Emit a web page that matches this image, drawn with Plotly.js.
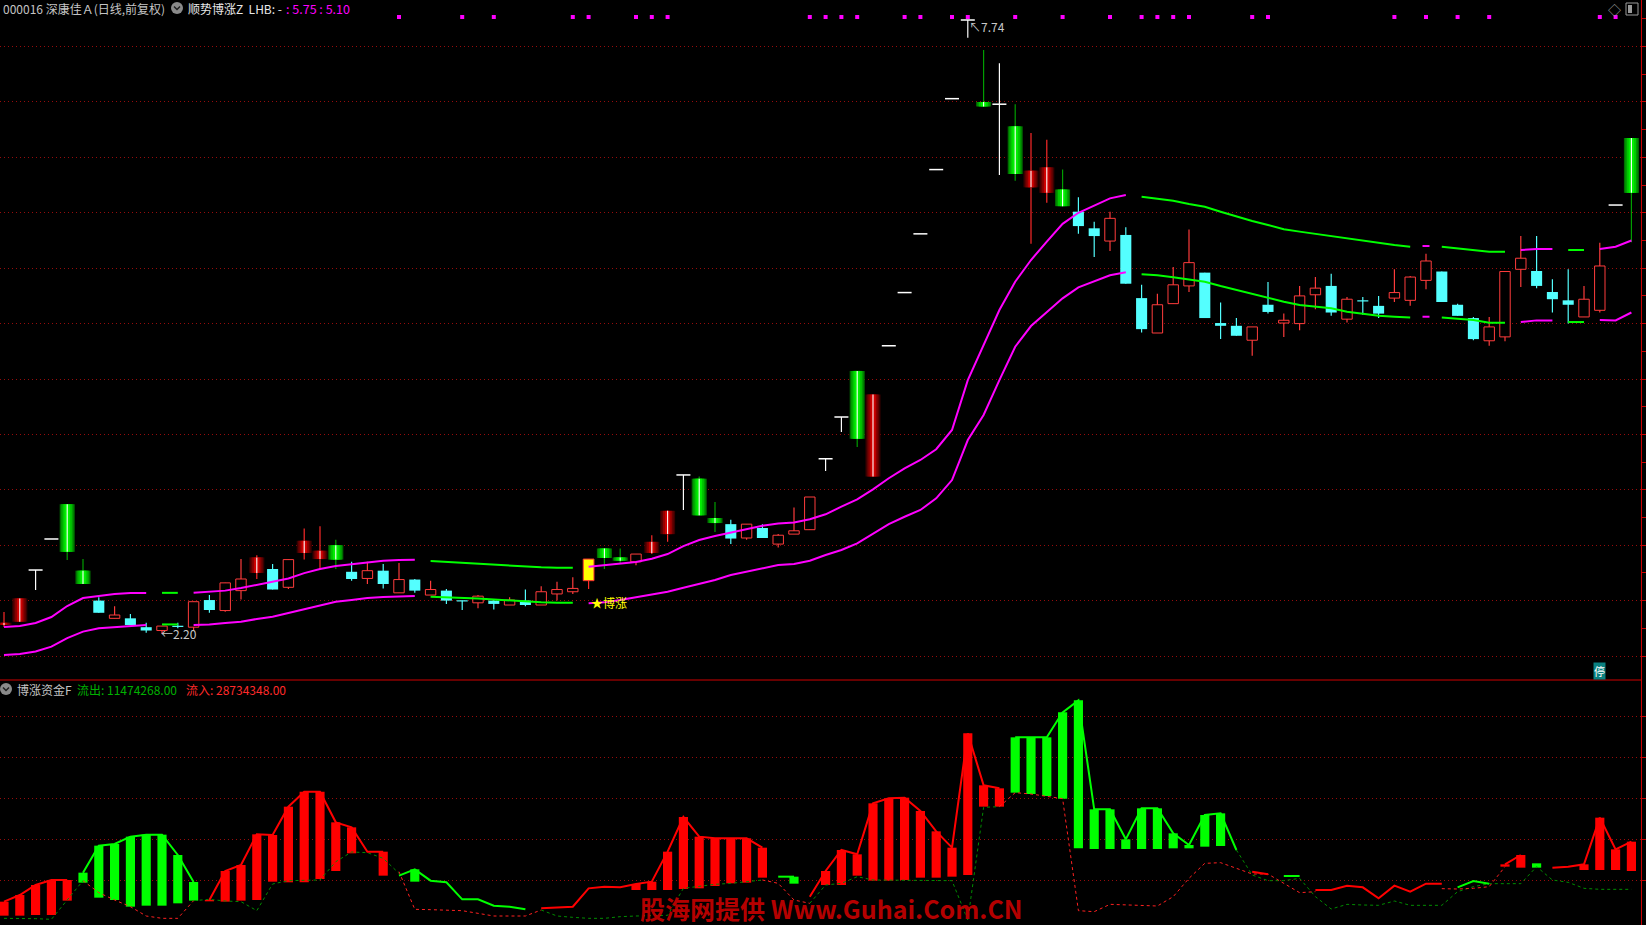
<!DOCTYPE html>
<html>
<head>
<meta charset="utf-8">
<script src="https://cdn.plot.ly/plotly-3.0.1.min.js"></script>
<style>
html,body{margin:0;padding:0;background:#000;overflow:hidden}
#chart{width:1646px;height:925px}
</style>
</head>
<body>
<div id="chart"></div>
<script>
// ---------------- DATA ----------------
// daily candles, index 0..103
const openP = [2.28,2.31,2.776,3.056,3.37,2.77,2.50,2.34,2.34,2.26,
 2.23,2.27,2.26,2.505,2.41,2.59,2.75,2.785,2.62,2.93,
 2.875,3.00,2.76,2.70,2.77,2.57,2.69,2.55,2.59,2.50,
 2.48,2.50,2.46,2.50,2.46,2.56,2.58,2.68,2.97,2.89,
 2.85,2.93,3.10,3.634,3.60,3.245,3.19,3.065,3.155,3.01,
 3.10,3.14,3.78,4.157,4.573,3.62,4.80,5.28,5.81,6.39,
 7.03,7.74,7.00,6.98,6.78,6.23,6.18,6.21,6.01,5.86,
 5.745,5.80,5.23,4.915,5.18,5.34,5.46,5.005,4.98,4.85,
 5.17,5.005,5.00,5.26,5.34,5.04,5.21,5.16,5.23,5.21,
 5.39,5.47,5.17,5.05,4.845,4.88,5.49,5.475,5.285,5.21,
 5.06,5.12,6.07,6.675];
const highP = [2.397,2.523,2.776,3.056,3.37,2.875,2.53,2.45,2.38,2.30,
 2.27,2.30,2.49,2.55,2.66,2.875,2.91,2.83,2.87,3.15,
 3.17,3.05,2.85,2.85,2.83,2.84,2.695,2.68,2.605,2.50,
 2.55,2.51,2.53,2.60,2.63,2.67,2.71,2.875,2.97,2.97,
 2.92,3.09,3.31,3.634,3.62,3.39,3.23,3.19,3.19,3.10,
 3.34,3.435,3.78,4.157,4.573,4.36,4.80,5.28,5.81,6.39,
 7.03,7.74,7.47,7.35,6.98,6.72,6.66,6.39,6.14,5.92,
 6.01,5.87,5.35,5.27,5.51,5.85,5.46,5.19,5.05,4.97,
 5.375,5.09,5.34,5.42,5.45,5.24,5.24,5.25,5.49,5.43,
 5.63,5.47,5.18,5.06,5.06,5.47,5.79,5.79,5.40,5.49,
 5.34,5.73,6.07,6.675];
const lowP = [2.262,2.307,2.596,3.056,2.866,2.65,2.39,2.34,2.28,2.21,
 2.20,2.25,2.235,2.39,2.40,2.51,2.695,2.60,2.605,2.87,
 2.785,2.785,2.68,2.65,2.61,2.57,2.57,2.55,2.47,2.415,
 2.43,2.42,2.46,2.45,2.46,2.50,2.56,2.605,2.785,2.84,
 2.82,2.92,3.03,3.318,3.27,3.12,3.01,3.05,3.065,2.98,
 3.10,3.137,3.67,4.022,3.886,3.62,4.80,5.28,5.81,6.39,
 7.03,7.58,6.96,6.34,6.29,5.72,6.09,6.06,5.81,5.60,
 5.655,5.36,4.92,4.915,5.18,5.285,5.05,4.86,4.89,4.71,
 5.09,4.88,4.94,5.13,5.07,5.01,5.08,5.05,5.195,5.16,
 5.31,5.195,5.07,4.85,4.80,4.84,5.33,5.32,5.10,5.00,
 5.06,5.10,6.07,5.735];
const closeP = [2.30,2.52,2.776,3.056,2.94,2.65,2.39,2.37,2.28,2.23,
 2.27,2.265,2.49,2.415,2.66,2.695,2.89,2.60,2.87,3.04,
 2.95,2.87,2.695,2.77,2.65,2.69,2.59,2.60,2.50,2.495,
 2.54,2.47,2.505,2.46,2.58,2.60,2.61,2.875,2.885,2.86,
 2.92,3.03,3.31,3.634,3.27,3.20,3.06,3.19,3.065,3.09,
 3.13,3.435,3.78,4.157,3.96,4.36,4.80,5.28,5.81,6.39,
 7.03,7.74,6.96,6.98,6.35,6.38,6.41,6.06,5.88,5.79,
 5.95,5.36,4.95,5.17,5.35,5.55,5.05,4.98,4.89,4.97,
 5.105,5.03,5.25,5.32,5.10,5.22,5.20,5.09,5.28,5.42,
 5.565,5.195,5.07,4.86,4.97,5.47,5.59,5.34,5.22,5.17,
 5.22,5.52,6.07,6.18];
// candle signal class: R up, C down, G green signal, D red signal, Y start day, W limit board
const candleKind = "DDWWGGCRCC" + "RCRCRRDCRD" + "DGCRCRCRCC" + "RCRCRRRYGG" + "RDDWGGCRCR" +
                   "RRWWGDWWWW" + "WWGWGDDGCC" + "RCCRRRCCCR" + "CRRRCRCCRR" + "RCCCRRRCCC" + "RRWG";

// trend bands
const bandUpper = [2.262,2.27,2.298,2.352,2.451,2.523,2.541,2.559,2.568,2.568,
 2.57,2.57,2.57,2.58,2.59,2.613,2.643,2.67,2.70,2.748,
 2.785,2.812,2.83,2.848,2.86,2.866,2.869,2.857,2.848,2.84,
 2.833,2.824,2.815,2.806,2.80,2.797,2.797,2.806,2.818,2.83,
 2.848,2.878,2.92,2.992,3.047,3.083,3.113,3.145,3.175,3.195,
 3.205,3.235,3.279,3.348,3.414,3.504,3.604,3.694,3.769,3.866,
 4.04,4.49,4.81,5.123,5.378,5.574,5.74,5.90,6.00,6.067,
 6.13,6.16,6.145,6.13,6.109,6.079,6.055,6.01,5.965,5.926,
 5.89,5.851,5.83,5.809,5.79,5.77,5.748,5.73,5.709,5.694,
 5.70,5.694,5.68,5.664,5.649,5.649,5.664,5.673,5.673,5.664,
 5.664,5.673,5.694,5.75];
const bandLower = [2.009,2.018,2.04,2.085,2.162,2.22,2.25,2.262,2.274,2.28,
 2.285,2.285,2.28,2.285,2.298,2.31,2.334,2.355,2.388,2.424,
 2.46,2.49,2.505,2.523,2.532,2.535,2.542,2.535,2.532,2.526,
 2.52,2.511,2.502,2.49,2.484,2.481,2.481,2.475,2.484,2.505,
 2.529,2.55,2.58,2.616,2.65,2.686,2.731,2.761,2.797,2.821,
 2.83,2.86,2.911,2.957,3.017,3.101,3.191,3.257,3.318,3.423,
 3.588,3.949,4.175,4.49,4.791,4.978,5.107,5.228,5.327,5.378,
 5.436,5.463,5.445,5.436,5.418,5.40,5.378,5.339,5.303,5.267,
 5.237,5.198,5.168,5.153,5.138,5.107,5.087,5.071,5.062,5.056,
 5.062,5.056,5.047,5.032,5.008,5.008,5.014,5.029,5.029,5.014,
 5.014,5.032,5.029,5.10];
const bandRuns = [['m',10],['g',2],['m',15],['g',10],['m',35],['g',18],['m',1],['g',5],['m',3],['g',2],['m',3]];
const signalDots = [25,29,31,36,37,40,41,42,51,52,53,54,57,58,60,61,64,67,70,72,73,74,75,79,80,88,90,92,94,101,102];

// money flow panel
const flowTop = [58,78,108,123,123,145,226,231,253,259,
 259,198,117,63,150,168,260,258,343,388,
 388,296,281,208,208,136,155,121,116,65,
 65,46,43,35,38,41,43,98,103,101,
 111,118,208,312,253,248,248,248,220,133,
 133,73,150,213,200,353,368,370,330,269,
 220,563,407,398,551,551,551,626,662,335,
 335,245,338,338,263,228,318,323,213,148,
 140,135,135,93,93,106,101,68,106,88,
 112,112,101,120,112,170,198,173,160,163,
 170,310,215,238];
const flowBase = [16,16,18,18,61,115,70,63,43,46,
 46,53,61,59,58,61,63,118,116,116,
 126,150,203,null,136,null,118,null,null,null,
 null,null,null,null,null,null,null,null,null,null,
 93,93,93,96,98,105,113,115,130,null,
 112,null,108,108,136,121,121,123,130,130,
 133,138,343,343,385,381,375,367,218,216,
 216,216,216,216,218,218,223,225,null,null,
 null,null,null,null,null,null,null,null,null,null,
 null,null,null,null,null,163,160,160,null,null,
 153,153,153,150];
const flowRuns = [['r',5],['g',8],['r',12],['g',9],['r',15],['g',2],['r',13],['g',15],['r',2],['g',2],['r',9],['g',3],['r',2],['g',1],['r',6]];
const dashGreen = [8,8,7,5,63,121,null,null,null,null,
 null,null,61,65,60,58,31,111,121,121,
 123,178,207,205,188,143,null,null,null,null,
 null,null,null,null,33,15,11,8,8,13,
 15,16,17,98,105,110,113,117,123,null,
 null,53,108,113,133,123,123,123,123,123,
 121,3,341,343,null,null,null,null,null,null,
 null,null,null,null,null,null,null,null,213,138,
 121,121,128,73,36,50,48,47,60,47,
 47,47,88,103,112,112,112,163,123,116,
 98,95,95,95];
const dashRed = [null,null,null,null,null,121,85,63,43,15,
 8,8,61,null,null,null,null,null,null,null,
 null,null,null,null,null,148,35,34,33,31,
 23,15,15,15,33,null,null,null,null,null,
 null,null,null,null,null,null,null,null,123,113,
 63,53,null,null,null,null,null,null,null,null,
 null,null,null,343,385,381,375,367,31,28,
 50,48,46,45,73,128,173,175,158,141,
 141,113,85,88,null,null,null,null,null,null,
 null,97,96,98,103,163,null,null,null,null,
 null,null,null,null];

const titleMain = "000016 深康佳Ａ(日线,前复权)";
const titleInd = "顺势博涨Z  LHB: -";
const titleVals = ": 5.75 : 5.10";
const lowerName = "博涨资金F";
const outText = "流出: 11474268.00";
const inText = "流入: 28734348.00";
const highLabel = "↖7.74";
const lowLabel = "←2.20";
const startLabel = "★博涨";
const watermark = "股海网提供 Www.Guhai.Com.CN";

// ---------------- LAYOUT GEOMETRY ----------------
const W = 1646, H = 925;
const PLOT_RIGHT = 1641;      // px of the right axis line
const SPLIT = 680;            // px of the panel separator
const X0PX = 4, STEP = 15.8;  // first candle centre, candle spacing (px)
const PRICE_RANGE = [1.7834, 7.9205];
const FLOW_RANGE = [-12, 723];
const FONT = '"Noto Sans CJK SC","Noto Sans",sans-serif';

const N = openP.length;
const idx = Array.from({length: N}, (_, i) => i);
const kinds = candleKind.split('');
const expand = runs => runs.flatMap(([s, n]) => Array(n).fill(s));
const bandState = expand(bandRuns);
const flowState = expand(flowRuns);

const traces = [];
const P = {xaxis: 'x', yaxis: 'y', hoverinfo: 'skip', showlegend: false};
const F = {xaxis: 'x', yaxis: 'y2', hoverinfo: 'skip', showlegend: false};

// wicks (bars so they sit beneath the bodies)
const wickColor = {R: '#ff3c3c', C: '#54ffff', G: '#00a000', D: '#ff2a2a', Y: '#ff2a2a', W: '#ffffff'};
Object.keys(wickColor).forEach(k => {
  const xs = [], bs = [], hs = [];
  idx.forEach(i => {
    if (kinds[i] === k && highP[i] - lowP[i] > 1e-6) { xs.push(i); bs.push(lowP[i]); hs.push(highP[i] - lowP[i]); }
  });
  traces.push(Object.assign({type: 'bar', x: xs, y: hs, base: bs, width: 0.075,
    marker: {color: wickColor[k], line: {width: 0}}}, P));
});

const MINB = 0.011;
function bodies(k) {
  const xs = [], bs = [], hs = [];
  idx.forEach(i => {
    if (kinds[i] !== k) return;
    const lo = Math.min(openP[i], closeP[i]), hi = Math.max(openP[i], closeP[i]);
    let h = hi - lo, b = lo;
    if (h < MINB) { b = (lo + hi) / 2 - MINB / 2; h = MINB; }
    xs.push(i); bs.push(b); hs.push(h);
  });
  return {xs, bs, hs};
}
function bodyTrace(k, width, color, line) {
  const d = bodies(k);
  traces.push(Object.assign({type: 'bar', x: d.xs, y: d.hs, base: d.bs, width: width,
    marker: {color: color, line: line || {width: 0}}}, P));
}
bodyTrace('R', 0.66, '#000000', {color: '#ff3c3c', width: 1});
bodyTrace('C', 0.7, '#54ffff');
bodyTrace('Y', 0.68, '#ffff00', {color: '#ff3030', width: 1});
[[0.95, '#006e00'], [0.78, '#009c00'], [0.58, '#00c800'], [0.34, '#00f000'], [0.07, '#ffffff']]
  .forEach(([w, c]) => bodyTrace('G', w, c));
[[0.95, '#380000'], [0.78, '#600000'], [0.58, '#900000'], [0.34, '#d00000'], [0.07, '#ffffff']]
  .forEach(([w, c]) => bodyTrace('D', w, c));

// limit-board heads (one-price dashes / T tops)
const wIdx = idx.filter(i => kinds[i] === 'W');
traces.push(Object.assign({type: 'scatter', mode: 'markers', x: wIdx, y: wIdx.map(i => closeP[i]),
  marker: {symbol: 'line-ew', size: 10, color: '#ffffff', line: {color: '#ffffff', width: 1.5}}}, P));

// bands
function masked(arr, st, s) { return arr.map((v, i) => st[i] === s ? v : null); }
function singles(arr, st, s) {
  return idx.filter(i => st[i] === s && st[i - 1] !== s && st[i + 1] !== s);
}
[['m', '#ff00ff'], ['g', '#00ff00']].forEach(([s, c]) => {
  [bandUpper, bandLower].forEach(arr => {
    traces.push(Object.assign({type: 'scatter', mode: 'lines', x: idx, y: masked(arr, bandState, s),
      connectgaps: false, line: {color: c, width: 2}}, P));
    const one = singles(arr, bandState, s);
    if (one.length) traces.push(Object.assign({type: 'scatter', mode: 'markers', x: one, y: one.map(i => arr[i]),
      marker: {symbol: 'line-ew', size: 5, line: {color: c, width: 2}}}, P));
  });
});

// signal dot row
const dotPrice = PRICE_RANGE[1] - 17 / SPLIT * (PRICE_RANGE[1] - PRICE_RANGE[0]);
traces.push(Object.assign({type: 'scatter', mode: 'markers', x: signalDots, y: signalDots.map(() => dotPrice),
  marker: {symbol: 'square', size: 4, color: '#ff00ff', line: {width: 0}}}, P));

// flow bars
[['r', '#ff0000'], ['g', '#00ff00']].forEach(([s, c]) => {
  const xs = [], bs = [], hs = [];
  idx.forEach(i => {
    if (flowState[i] === s && flowBase[i] !== null) { xs.push(i); bs.push(flowBase[i]); hs.push(flowTop[i] - flowBase[i]); }
  });
  traces.push(Object.assign({type: 'bar', x: xs, y: hs, base: bs, width: 0.58,
    marker: {color: c, line: {width: 0}}}, F));
});
// dashed flow lines
traces.push(Object.assign({type: 'scatter', mode: 'lines', x: idx, y: dashGreen, connectgaps: false,
  line: {color: '#008c00', width: 1, dash: '3px,3px'}}, F));
traces.push(Object.assign({type: 'scatter', mode: 'lines', x: idx, y: dashRed, connectgaps: false,
  line: {color: '#ff2020', width: 1, dash: '3px,3px'}}, F));
// solid flow lines
[['r', '#ff0000'], ['g', '#00ff00']].forEach(([s, c]) => {
  traces.push(Object.assign({type: 'scatter', mode: 'lines', x: idx, y: masked(flowTop, flowState, s),
    connectgaps: false, line: {color: c, width: 2}}, F));
});

// ---------------- LAYOUT ----------------
const px = x => x / W, py = y => 1 - y / H;
const splitPaper = (H - SPLIT) / H;
const gridStyle = {gridcolor: '#960c0c', griddash: '1px,3px', gridwidth: 1};

function ann(text, x, y, color, size, extra) {
  return Object.assign({xref: 'paper', yref: 'paper', x: px(x), y: py(y), text: text, showarrow: false,
    xanchor: 'left', yanchor: 'middle', font: {family: FONT, size: size, color: color}}, extra || {});
}

const annotations = [
  ann(titleMain, 1, 8, '#c4c4c4', 12),
  ann(titleInd, 186, 8, '#e8e8e8', 12),
  ann(titleVals, 284, 8, '#ff00ff', 12.5),
  ann(lowerName, 15, 689, '#c4c4c4', 12),
  ann(outText, 75, 689, '#00b000', 12),
  ann(inText, 184, 689, '#ff2a2a', 12),
  {xref: 'x', yref: 'y', x: 61, y: highP[61], text: highLabel, showarrow: false, xanchor: 'left', yanchor: 'top',
   xshift: -1, yshift: 4, font: {family: FONT, size: 12, color: '#c8c8c8'}},
  {xref: 'x', yref: 'y', x: 10, y: lowP[10], text: lowLabel, showarrow: false, xanchor: 'left', yanchor: 'middle',
   xshift: -3, font: {family: FONT, size: 12, color: '#c8c8c8'}},
  {xref: 'x', yref: 'y', x: 37, y: lowP[37], text: startLabel, showarrow: false, xanchor: 'left', yanchor: 'middle',
   xshift: 0, yshift: -14, font: {family: FONT, size: 12, color: '#ffff00'}},
  ann(watermark, 638, 908, '#b40000', 25, {font: {family: FONT, size: 25, color: '#b40000', weight: 'bold'}}),
  ann('◇', 1606, 9, '#9a9a9a', 13),
  Object.assign(ann('停', 1593, 671, '#ffffff', 11), {bgcolor: '#0a8080', borderpad: 0})
];

const shapes = [
  {type: 'line', xref: 'paper', yref: 'paper', x0: 0, x1: px(PLOT_RIGHT), y0: splitPaper, y1: splitPaper,
   line: {color: '#d00000', width: 1}},
  {type: 'circle', xref: 'paper', yref: 'paper', x0: px(171), x1: px(183), y0: py(2), y1: py(14),
   fillcolor: '#8a8a8a', line: {width: 0}},
  {type: 'path', xref: 'paper', yref: 'paper',
   path: `M ${px(174)} ${py(6.5)} L ${px(177)} ${py(9.5)} L ${px(180)} ${py(6.5)}`, line: {color: '#202020', width: 1.5}},
  {type: 'circle', xref: 'paper', yref: 'paper', x0: px(0), x1: px(12), y0: py(683), y1: py(695),
   fillcolor: '#8a8a8a', line: {width: 0}},
  {type: 'path', xref: 'paper', yref: 'paper',
   path: `M ${px(3)} ${py(687.5)} L ${px(6)} ${py(690.5)} L ${px(9)} ${py(687.5)}`, line: {color: '#202020', width: 1.5}},
  {type: 'rect', xref: 'paper', yref: 'paper', x0: px(1626), x1: px(1638), y0: py(15), y1: py(3),
   line: {color: '#9a9a9a', width: 1}, fillcolor: 'rgba(0,0,0,0)'},
  {type: 'rect', xref: 'paper', yref: 'paper', x0: px(1628), x1: px(1632), y0: py(13), y1: py(5),
   line: {width: 0}, fillcolor: '#9a9a9a'}
];

const layout = {
  width: W, height: H,
  margin: {l: 0, r: 0, t: 0, b: 0, pad: 0},
  paper_bgcolor: '#000000', plot_bgcolor: '#000000',
  showlegend: false, barmode: 'overlay', hovermode: false, dragmode: false,
  xaxis: {domain: [0, px(PLOT_RIGHT)], range: [-X0PX / STEP, (PLOT_RIGHT - X0PX) / STEP],
    anchor: 'y2', showgrid: false, zeroline: false, showticklabels: false, ticks: '', showline: false},
  yaxis: Object.assign({domain: [splitPaper, 1], range: PRICE_RANGE, anchor: 'x', side: 'right',
    showline: true, linecolor: '#c80000', linewidth: 1, ticks: 'outside', ticklen: 4, tickcolor: '#c80000',
    tickmode: 'linear', tick0: 0, dtick: 0.5, showticklabels: false, showgrid: true, zeroline: false,
    minor: {tickmode: 'linear', tick0: 0, dtick: 0.25, ticks: 'outside', ticklen: 4, tickcolor: '#c80000', showgrid: false}
  }, gridStyle),
  yaxis2: Object.assign({domain: [0, splitPaper], range: FLOW_RANGE, anchor: 'x', side: 'right',
    showline: true, linecolor: '#c80000', linewidth: 1, ticks: 'outside', ticklen: 4, tickcolor: '#c80000',
    tickmode: 'array', tickvals: [122.5, 245, 367.5, 490, 612.5], showticklabels: false, showgrid: true, zeroline: false
  }, gridStyle),
  annotations: annotations,
  shapes: shapes
};

Plotly.newPlot('chart', traces, layout, {staticPlot: true, displayModeBar: false});
</script>
</body>
</html>
